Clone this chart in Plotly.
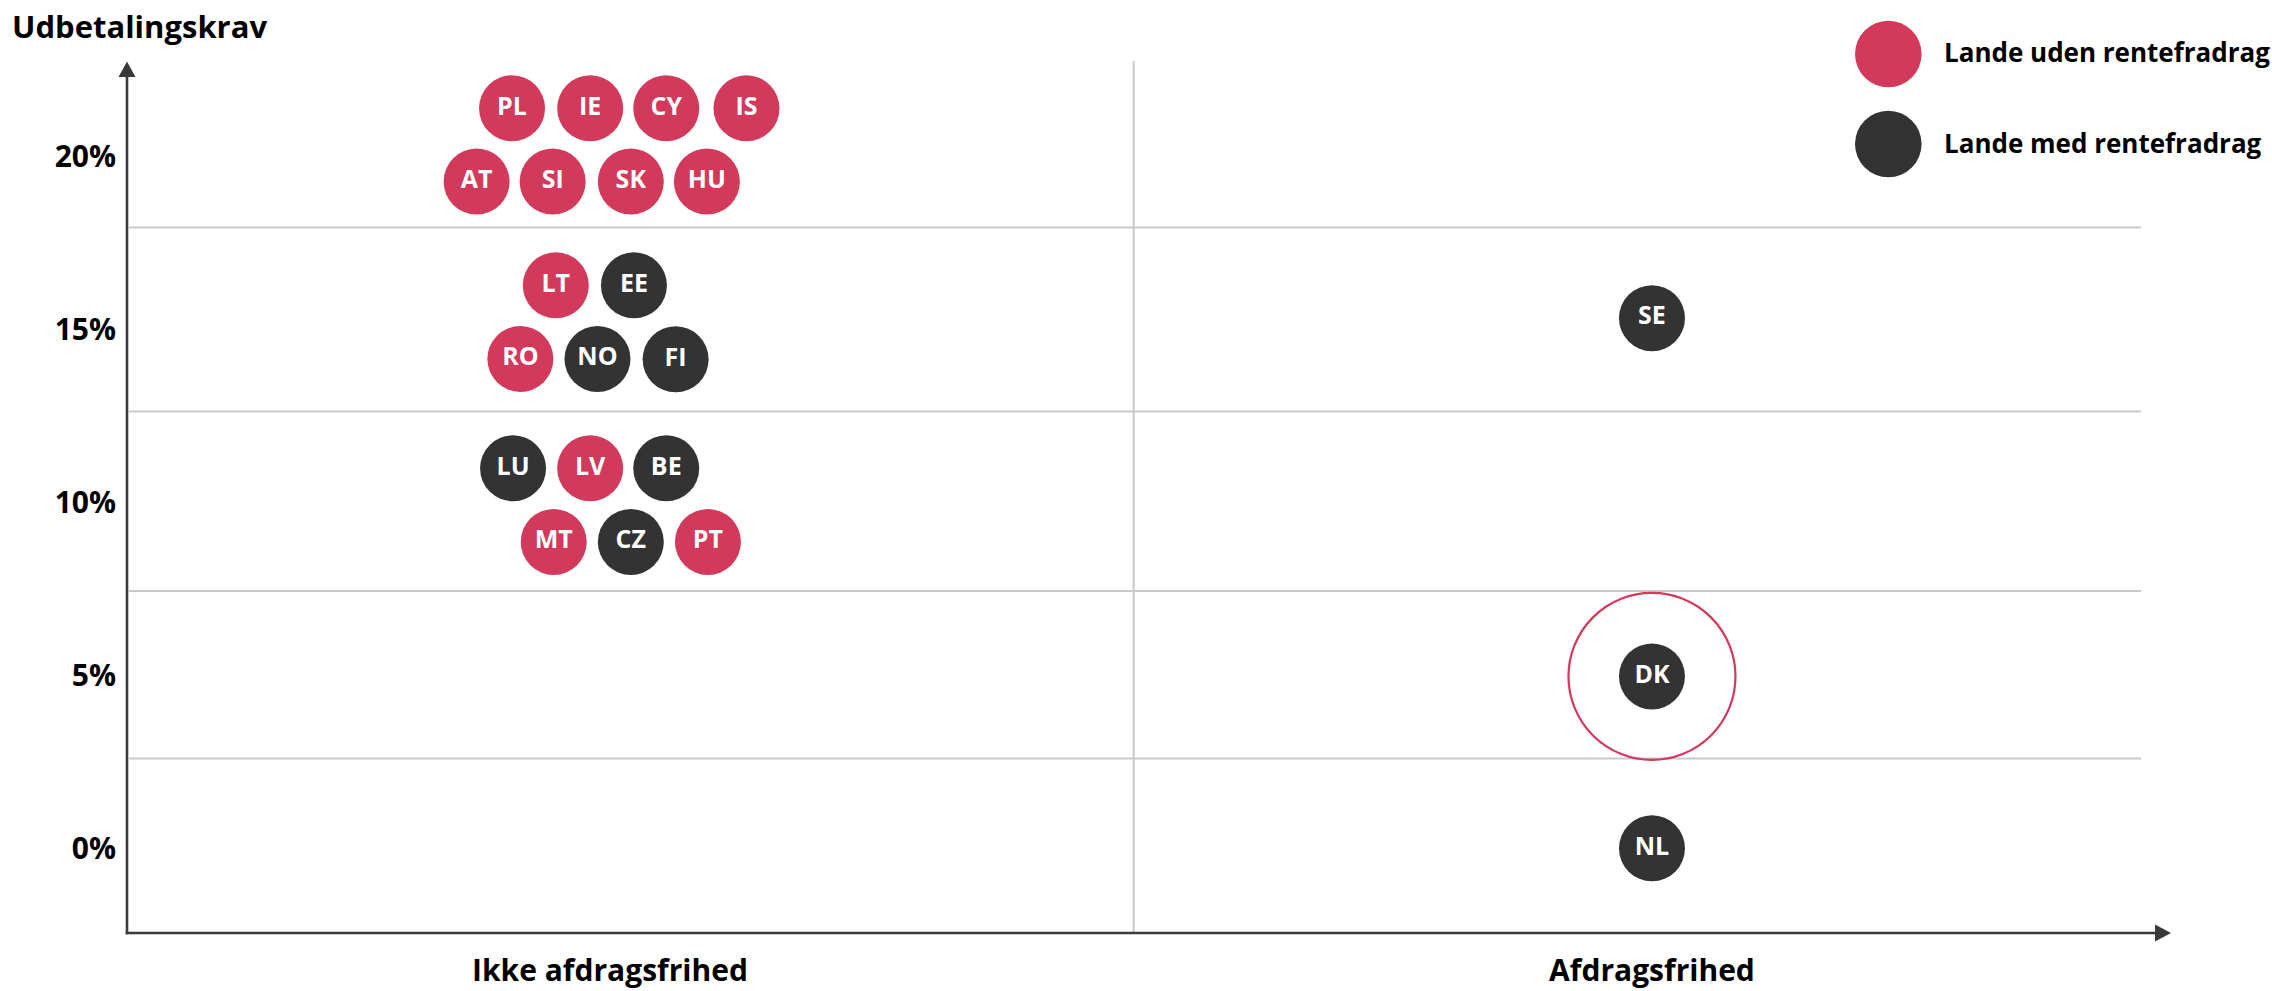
import plotly.graph_objects as go

# ---------------- data ----------------
countries = ["PL", "IE", "CY", "IS", "AT", "SI", "SK", "HU",
             "LT", "EE", "RO", "NO", "FI",
             "LU", "LV", "BE", "MT", "CZ", "PT",
             "SE", "DK", "NL"]
# horizontal position in category units (0 = Ikke afdragsfrihed, 1 = Afdragsfrihed)
x_pos = [-0.094, -0.019, 0.054, 0.131, -0.128, -0.055, 0.020, 0.093,
         -0.052, 0.023, -0.086, -0.012, 0.063,
         -0.093, -0.019, 0.054, -0.054, 0.020, 0.094,
         1.0, 1.0, 1.0]
# udbetalingskrav (%), as drawn
udbetaling = [21.4, 21.4, 21.4, 21.4, 19.28, 19.28, 19.28, 19.28,
              16.28, 16.28, 14.15, 14.15, 14.14,
              10.99, 10.99, 10.99, 8.86, 8.86, 8.86,
              15.33, 4.97, 0.0]
med_rentefradrag = [False, False, False, False, False, False, False, False,
                    False, True, False, True, True,
                    True, False, True, False, True, False,
                    True, True, True]
highlight = "DK"

x_categories = ["Ikke afdragsfrihed", "Afdragsfrihed"]
y_ticks = [0, 5, 10, 15, 20]
y_ticktext = ["0%", "5%", "10%", "15%", "20%"]
band_edges = [2.6, 7.44, 12.63, 17.95]
legend_labels = ["Lande uden rentefradrag", "Lande med rentefradrag"]

# ---------------- styles ----------------
RED = "#D2395A"
DARK = "#333333"
GRID = "#C9C9C9"
AXIS = "#3A3A3A"
FONT = "Open Sans"

W, H = 2272, 991
ML, MR, MT, MB = 127, 101, 61, 58
X0, X1 = -0.4635, 1.4981
Y0, Y1 = -2.449, 22.767
PW, PH = W - ML - MR, H - MT - MB


def xd(px):
    return X0 + (px - ML) / PW * (X1 - X0)


def px_(px):  # pixel -> paper x
    return (px - ML) / PW


def py_(py):  # pixel -> paper y
    return (H - MB - py) / PH


fig = go.Figure()

for flag, color, name in [(False, RED, legend_labels[0]), (True, DARK, legend_labels[1])]:
    idx = [i for i, f in enumerate(med_rentefradrag) if f == flag]
    fig.add_trace(go.Scatter(
        x=[x_pos[i] for i in idx],
        y=[udbetaling[i] for i in idx],
        text=[countries[i] for i in idx],
        mode="markers+text",
        name=name,
        marker=dict(size=66, color=color, line=dict(width=0)),
        textposition="middle center",
        textfont=dict(family=FONT, size=25, color="white", weight="bold"),
        hovertemplate="%{text}: %{y}%<extra></extra>",
        showlegend=False,
        cliponaxis=False,
    ))

# highlight ring around DK
hi = countries.index(highlight)
fig.add_trace(go.Scatter(
    x=[x_pos[hi]], y=[udbetaling[hi]], mode="markers",
    marker=dict(size=167, symbol="circle-open", color=RED, line=dict(width=2.2, color=RED)),
    hoverinfo="skip", showlegend=False, cliponaxis=False,
))

shapes = []
# horizontal band separators
for e in band_edges:
    shapes.append(dict(type="line", xref="x", yref="y", x0=xd(129), x1=xd(2141), y0=e, y1=e,
                       line=dict(color=GRID, width=2), layer="below"))
# vertical separator between categories
shapes.append(dict(type="line", xref="x", yref="y", x0=0.5026, x1=0.5026, y0=Y0, y1=Y1,
                   line=dict(color=GRID, width=2), layer="below"))
# axis lines (paper refs so they are not clipped)
shapes.append(dict(type="line", xref="paper", yref="paper", x0=px_(ML - 1.3), x1=px_(2158),
                   y0=py_(933), y1=py_(933), line=dict(color=AXIS, width=2.6)))
shapes.append(dict(type="line", xref="paper", yref="paper", x0=px_(ML), x1=px_(ML),
                   y0=py_(934.3), y1=py_(74), line=dict(color=AXIS, width=2.6)))
# arrow heads
shapes.append(dict(type="path", xref="paper", yref="paper",
                   path=f"M {px_(ML-8.5)},{py_(77)} L {px_(ML)},{py_(61.5)} L {px_(ML+8.5)},{py_(77)} Z",
                   fillcolor=AXIS, line=dict(width=0)))
shapes.append(dict(type="path", xref="paper", yref="paper",
                   path=f"M {px_(2155)},{py_(924.5)} L {px_(2171)},{py_(933)} L {px_(2155)},{py_(941.5)} Z",
                   fillcolor=AXIS, line=dict(width=0)))
# legend circles
for i, c in enumerate([RED, DARK]):
    cy = [54, 144][i]
    shapes.append(dict(type="circle", xref="paper", yref="paper",
                       xsizemode="pixel", ysizemode="pixel",
                       xanchor=px_(1888.3), yanchor=py_(cy),
                       x0=-33.3, x1=33.3, y0=-33.3, y1=33.3,
                       fillcolor=c, line=dict(width=0)))

annotations = [
    dict(text="Udbetalingskrav", xref="paper", yref="paper",
         x=px_(10), y=py_(26), xanchor="left", yanchor="middle",
         showarrow=False, font=dict(family=FONT, size=31, color="#000", weight="bold")),
]
for i, lab in enumerate(legend_labels):
    cy = [52, 143][i]
    annotations.append(dict(text=lab, xref="paper", yref="paper",
                            x=px_(1942), y=py_(cy),
                            xanchor="left", yanchor="middle", showarrow=False,
                            font=dict(family=FONT, size=26, color="#000", weight="bold")))

fig.update_layout(
    width=W, height=H,
    margin=dict(l=ML, r=MR, t=MT, b=MB, autoexpand=False),
    plot_bgcolor="white", paper_bgcolor="white",
    shapes=shapes, annotations=annotations,
    xaxis=dict(range=[X0, X1], tickvals=[0, 1], ticktext=x_categories,
               showgrid=False, zeroline=False, showline=False, ticks="",
               tickfont=dict(family=FONT, size=30, color="#000", weight="bold"),
               ticklabelstandoff=17, automargin=False, fixedrange=True),
    yaxis=dict(range=[Y0, Y1], tickvals=y_ticks, ticktext=y_ticktext,
               showgrid=False, zeroline=False, showline=False, ticks="",
               tickfont=dict(family=FONT, size=30, color="#000", weight="bold"),
               ticklabelstandoff=10, automargin=False, fixedrange=True),
    showlegend=False,
)

fig.write_html("out.html",
               config={"displayModeBar": False},
               post_script="document.body.style.margin='0';document.body.style.padding='0';"
                           "document.documentElement.style.overflow='hidden';")
